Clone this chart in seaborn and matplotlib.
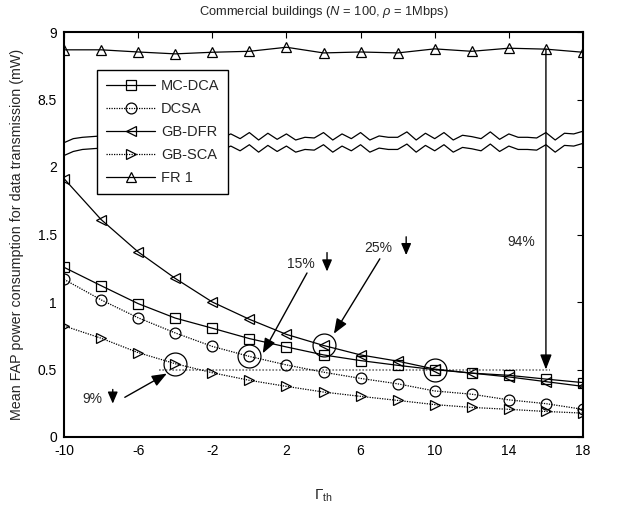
import numpy as np
import pandas as pd
import matplotlib
matplotlib.use("Agg")
import matplotlib.pyplot as plt
import seaborn as sns

# ---------------- data ----------------
gamma_th = [-10, -8, -6, -4, -2, 0, 2, 4, 6, 8, 10, 12, 14, 16, 18]
mc_dca = [1.257, 1.121, 0.988, 0.881, 0.806, 0.729, 0.667, 0.608, 0.566, 0.531, 0.499, 0.473, 0.457, 0.429, 0.403]
dcsa = [1.168, 1.016, 0.883, 0.771, 0.671, 0.597, 0.534, 0.480, 0.434, 0.394, 0.341, 0.317, 0.275, 0.247, 0.205]
gb_dfr = [1.914, 1.611, 1.371, 1.175, 1.000, 0.872, 0.760, 0.678, 0.608, 0.562, 0.503, 0.473, 0.445, 0.410, 0.375]
gb_sca = [0.823, 0.732, 0.625, 0.543, 0.476, 0.420, 0.375, 0.333, 0.301, 0.271, 0.240, 0.219, 0.205, 0.189, 0.177]
fr1 = [8.868, 8.868, 8.852, 8.838, 8.850, 8.857, 8.887, 8.845, 8.852, 8.845, 8.875, 8.857, 8.880, 8.873, 8.850]

# broken y axis: upper band values are shown shifted down by this offset
axis_break_offset = 6.0
ytick_pos = [0, 0.5, 1, 1.5, 2, 2.5, 3]
ytick_labels = ["0", "0.5", "1", "1.5", "2", "8.5", "9"]
xtick_pos = [-10, -6, -2, 2, 6, 10, 14, 18]

# axis-break zigzag lines (display units)
zz_x = [-10 + 0.5 * i for i in range(57)]
zz_upper = [2.18, 2.21, 2.22, 2.225, 2.23, 2.225, 2.235, 2.215, 2.235, 2.215, 2.235, 2.215,
            2.235, 2.215, 2.235, 2.215, 2.235, 2.215, 2.245, 2.21, 2.255, 2.20, 2.25, 2.205,
            2.245, 2.20, 2.22, 2.215, 2.255, 2.20, 2.245, 2.21, 2.255, 2.20, 2.23, 2.22,
            2.22, 2.26, 2.20, 2.25, 2.21, 2.255, 2.20, 2.235, 2.225, 2.21, 2.26, 2.205,
            2.245, 2.22, 2.22, 2.215, 2.255, 2.20, 2.25, 2.245, 2.265]
zz_lower = [2.085, 2.115, 2.13, 2.135, 2.14, 2.135, 2.145, 2.125, 2.145, 2.125, 2.145, 2.125,
            2.145, 2.125, 2.145, 2.125, 2.145, 2.125, 2.155, 2.12, 2.165, 2.11, 2.16, 2.115,
            2.155, 2.11, 2.13, 2.125, 2.165, 2.11, 2.155, 2.12, 2.165, 2.11, 2.14, 2.13,
            2.13, 2.17, 2.11, 2.16, 2.12, 2.165, 2.11, 2.145, 2.135, 2.12, 2.17, 2.115,
            2.155, 2.13, 2.13, 2.125, 2.165, 2.11, 2.16, 2.155, 2.175]

# highlighted points (index into gamma_th)
hl_idx_sca, hl_idx_dcsa, hl_idx_dfr, hl_idx_mc = 3, 5, 7, 10

# reference level and annotations
ref_level = 0.5
ref_x = [-4.9, 16.2]
pct_labels = ["9%", "15%", "25%", "94%"]
pct_text_xy = [(-8.45, 0.282), (2.77, 1.285), (6.96, 1.40), (14.65, 1.447)]
small_arrow_x = [-7.37, 4.19, 8.46]
small_arrow_y = [(0.352, 0.247), (1.366, 1.226), (1.483, 1.347)]
long_arrows = [((-6.72, 0.294), (-4.45, 0.47)),
               ((3.11, 1.215), (0.72, 0.62)),
               ((7.04, 1.32), (4.56, 0.765))]

# ---------------- style ----------------
sns.set_style("white")
plt.rcParams["font.family"] = ["Liberation Sans", "DejaVu Sans"]
plt.rcParams["mathtext.fontset"] = "custom"
plt.rcParams["mathtext.rm"] = "Liberation Sans"
plt.rcParams["mathtext.it"] = "Liberation Sans:italic"
plt.rcParams["mathtext.bf"] = "Liberation Sans:bold"

W, H = 619, 515
fig = plt.figure(figsize=(W / 100, H / 100), dpi=100)
L, R, T, B = 64, 583, 32, 437
ax = fig.add_axes([L / W, 1 - B / H, (R - L) / W, (B - T) / H])

df = pd.DataFrame({"g": gamma_th, "MC-DCA": mc_dca, "DCSA": dcsa, "GB-DFR": gb_dfr,
                   "GB-SCA": gb_sca, "FR 1": [v - axis_break_offset for v in fr1]})

series = [("MC-DCA", "s", "-"), ("DCSA", "o", (0, (1, 1))), ("GB-DFR", "<", "-"),
          ("GB-SCA", ">", (0, (1, 1))), ("FR 1", "^", "-")]
for name, mk, ls in series:
    sns.lineplot(data=df, x="g", y=name, ax=ax, color="k", marker=mk, markersize=7.8,
                 markerfacecolor="none", markeredgecolor="k", markeredgewidth=0.9,
                 linewidth=0.9, linestyle=ls, label=name)

# zigzag axis-break lines
sns.lineplot(x=zz_x, y=zz_upper, ax=ax, color="k", linewidth=0.9, zorder=1.5)
sns.lineplot(x=zz_x, y=zz_lower, ax=ax, color="k", linewidth=0.9, zorder=1.5)

# reference dotted level line
ax.plot(ref_x, [ref_level, ref_level], color="#777777", linestyle=(0, (1, 1)), linewidth=1.2, zorder=1.8)

# big highlight circles
hl_x = [gamma_th[hl_idx_sca], gamma_th[hl_idx_dcsa], gamma_th[hl_idx_dfr], gamma_th[hl_idx_mc]]
hl_y = [gb_sca[hl_idx_sca], dcsa[hl_idx_dcsa], gb_dfr[hl_idx_dfr], mc_dca[hl_idx_mc]]
ax.plot(hl_x, hl_y, linestyle="none", marker="o", markersize=16.5, markerfacecolor="none",
        markeredgecolor="k", markeredgewidth=0.9)

# annotations
for lab, (tx, ty) in zip(pct_labels, pct_text_xy):
    ax.text(tx, ty, lab, fontsize=10, ha="center", va="center")
for sx, (y0, y1) in zip(small_arrow_x, small_arrow_y):
    ax.annotate("", xy=(sx, y1), xytext=(sx, y0),
                arrowprops=dict(arrowstyle="-|>,head_length=0.7,head_width=0.3", color="k",
                                lw=1.0, shrinkA=0, shrinkB=0))
for (p0, p1) in long_arrows:
    ax.annotate("", xy=p1, xytext=p0,
                arrowprops=dict(arrowstyle="-|>,head_length=0.9,head_width=0.35", color="k",
                                lw=1.0, shrinkA=0, shrinkB=0))
ax.annotate("", xy=(gamma_th[13], ref_level), xytext=(gamma_th[13], fr1[13] - axis_break_offset),
            arrowprops=dict(arrowstyle="-|>,head_length=0.9,head_width=0.35", color="k",
                            lw=1.0, shrinkA=0, shrinkB=0))

# axes
ax.set_xlim(-10, 18)
ax.set_ylim(0, 3)
ax.set_xticks(xtick_pos)
ax.set_xticklabels([str(v) for v in xtick_pos])
ax.set_yticks(ytick_pos)
ax.set_yticklabels(ytick_labels)
ax.tick_params(direction="in", length=4, width=0.8, top=True, right=True,
               labelsize=10, colors="k")
ax.tick_params(axis="x", pad=5)
ax.tick_params(axis="y", pad=5)
for sp in ax.spines.values():
    sp.set_color("k")
    sp.set_linewidth(1.5)
ax.set_xlabel("")
ax.set_ylabel("")

fig.text((L + R) / 2 / W, 1 - 12 / H, r"Commercial buildings ($N$ = 100, $\rho$ = 1Mbps)",
         ha="center", va="center", fontsize=9.3)
fig.text((L + R) / 2 / W, 1 - 496 / H, r"$\Gamma_{\mathrm{th}}$", ha="center", va="center", fontsize=11)
fig.text(17 / W, 1 - (T + B) / 2 / H, "Mean FAP power consumption for data transmission (mW)",
         rotation=90, ha="center", va="center", fontsize=10.3)

h, l = ax.get_legend_handles_labels()
order = ["MC-DCA", "DCSA", "GB-DFR", "GB-SCA", "FR 1"]
hh = [h[l.index(o)] for o in order]
leg = ax.legend(hh, order, loc="upper left", bbox_to_anchor=((97 - L) / (R - L), (B - 70) / (B - T)),
                borderaxespad=0, frameon=True, fancybox=False, framealpha=1, edgecolor="k",
                fontsize=10.5, handlelength=3.4, handletextpad=0.4, labelspacing=0.62,
                borderpad=0.6)
leg.get_frame().set_linewidth(1.0)

fig.savefig("out.png", dpi=100)
